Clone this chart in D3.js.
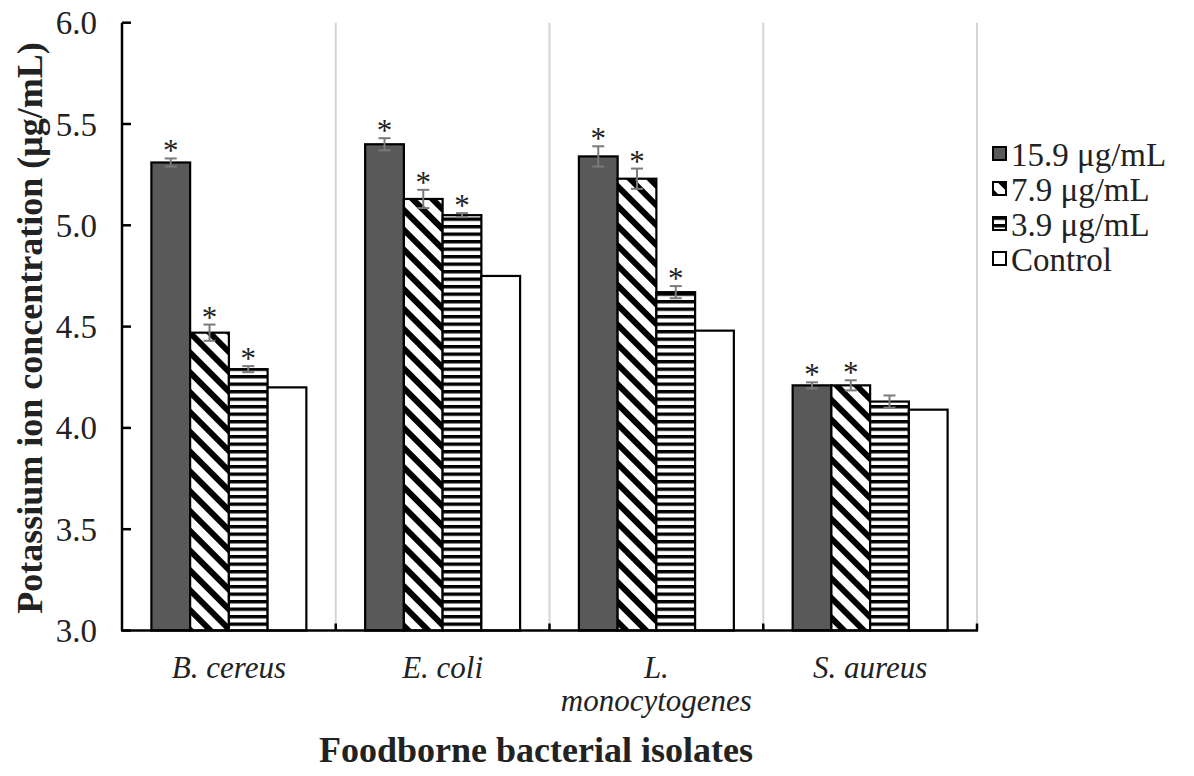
<!DOCTYPE html>
<html>
<head>
<meta charset="utf-8">
<script src="https://cdn.jsdelivr.net/npm/d3@7"></script>
<style>
  html, body { margin: 0; padding: 0; background: #fff; }
  svg { display: block; }
  text { font-family: "Liberation Serif", "Times New Roman", serif; fill: #222; }
</style>
</head>
<body>
<svg id="chart" width="1194" height="776"></svg>
<script>
// ---- data ----
const categories = ["B. cereus", "E. coli", "L. monocytogenes", "S. aureus"];
const categoryLines = [["B. cereus"], ["E. coli"], ["L.", "monocytogenes"], ["S. aureus"]];
const seriesNames = ["15.9 μg/mL", "7.9 μg/mL", "3.9 μg/mL", "Control"];
const values159 = [5.31, 5.40, 5.34, 4.21];
const errors159 = [0.02, 0.03, 0.05, 0.015];
const sig159 = [true, true, true, true];
const values79 = [4.47, 5.13, 5.23, 4.21];
const errors79 = [0.04, 0.045, 0.05, 0.025];
const sig79 = [true, true, true, true];
const values39 = [4.29, 5.05, 4.67, 4.13];
const errors39 = [0.015, 0.01, 0.03, 0.03];
const sig39 = [true, true, true, false];
const valuesCtrl = [4.20, 4.75, 4.48, 4.09];
const errorsCtrl = [0, 0, 0, 0];
const sigCtrl = [false, false, false, false];
const yTicks = [3.0, 3.5, 4.0, 4.5, 5.0, 5.5, 6.0];
const yTitle = "Potassium ion concentration (μg/mL)";
const xTitle = "Foodborne bacterial isolates";

(function () {
const seriesValues = [values159, values79, values39, valuesCtrl];
const seriesErrors = [errors159, errors79, errors39, errorsCtrl];
const seriesSig = [sig159, sig79, sig39, sigCtrl];
const fills = ["#595959", "url(#diag)", "url(#horiz)", "#ffffff"];

const svg = d3.select("#chart");
const defs = svg.append("defs");

// diagonal stripes "\"
const pd = defs.append("pattern").attr("id", "diag")
  .attr("patternUnits", "userSpaceOnUse").attr("width", 14).attr("height", 14)
  .attr("patternTransform", "rotate(45)");
pd.append("rect").attr("width", 14).attr("height", 14).attr("fill", "#fff");
pd.append("rect").attr("y", 0).attr("width", 14).attr("height", 6).attr("fill", "#000");

// horizontal stripes
const ph = defs.append("pattern").attr("id", "horiz")
  .attr("patternUnits", "userSpaceOnUse").attr("width", 10).attr("height", 7.5);
ph.append("rect").attr("width", 10).attr("height", 7.5).attr("fill", "#fff");
ph.append("rect").attr("y", 0).attr("width", 10).attr("height", 3.4).attr("fill", "#000");

const pLeft = 122, pRight = 977, pTop = 22.7, pBottom = 630.5;

const x = d3.scaleBand().domain(categories).range([pLeft, pRight])
  .paddingInner(0.275).paddingOuter(0.1375);
const xs = d3.scaleBand().domain(seriesNames).range([0, x.bandwidth()]).padding(0);
const y = d3.scaleLinear().domain([3, 6]).range([pBottom, pTop]);

// vertical gridlines at category boundaries
const step = x.step();
const boundaries = categories.map((c, i) => pLeft + step * (i + 1));
svg.append("g").selectAll("line").data(boundaries).join("line")
  .attr("x1", d => d).attr("x2", d => d)
  .attr("y1", y(6)).attr("y2", y(3))
  .attr("stroke", "#d4d4d4").attr("stroke-width", 2);

// bars
const gBars = svg.append("g");
seriesNames.forEach((s, si) => {
  const g = gBars.append("g");
  g.selectAll("rect").data(categories).join("rect")
    .attr("x", c => x(c) + xs(s))
    .attr("y", (c, i) => y(seriesValues[si][i]))
    .attr("width", xs.bandwidth())
    .attr("height", (c, i) => y(3) - y(seriesValues[si][i]))
    .attr("fill", fills[si])
    .attr("stroke", "#000").attr("stroke-width", 2.2);
});

// error bars + asterisks
seriesNames.forEach((s, si) => {
  categories.forEach((c, i) => {
    const e = seriesErrors[si][i];
    const v = seriesValues[si][i];
    const cx = x(c) + xs(s) + xs.bandwidth() / 2;
    if (e > 0) {
      const g = svg.append("g").attr("stroke", "#7a7a7a").attr("stroke-width", 2);
      g.append("line").attr("x1", cx).attr("x2", cx).attr("y1", y(v + e)).attr("y2", y(v - e));
      g.append("line").attr("x1", cx - 6).attr("x2", cx + 6).attr("y1", y(v + e)).attr("y2", y(v + e));
      g.append("line").attr("x1", cx - 6).attr("x2", cx + 6).attr("y1", y(v - e)).attr("y2", y(v - e));
    }
    if (seriesSig[si][i]) {
      svg.append("text").attr("x", cx).attr("y", y(v + e) + 3)
        .attr("text-anchor", "middle").attr("font-size", 31).attr("fill", "#000")
        .text("*");
    }
  });
});

// y axis
const yAxis = svg.append("g");
yAxis.append("line").attr("x1", pLeft).attr("x2", pLeft).attr("y1", y(6)).attr("y2", y(3))
  .attr("stroke", "#000").attr("stroke-width", 2.5);
yAxis.selectAll("line.tick").data(yTicks).join("line").attr("class", "tick")
  .attr("x1", pLeft).attr("x2", pLeft + 9).attr("y1", d => y(d)).attr("y2", d => y(d))
  .attr("stroke", "#000").attr("stroke-width", 2.5);
yAxis.selectAll("text").data(yTicks).join("text")
  .attr("x", 97).attr("y", d => y(d)).attr("dy", "0.35em")
  .attr("text-anchor", "end").attr("font-size", 33)
  .text(d => d3.format(".1f")(d));

// x axis
const xAxis = svg.append("g");
xAxis.append("line").attr("x1", pLeft - 1).attr("x2", pRight + 1).attr("y1", y(3)).attr("y2", y(3))
  .attr("stroke", "#000").attr("stroke-width", 2.5);
xAxis.selectAll("line.tick").data(boundaries).join("line").attr("class", "tick")
  .attr("x1", d => d).attr("x2", d => d).attr("y1", y(3)).attr("y2", y(3) - 7)
  .attr("stroke", "#000").attr("stroke-width", 2.5);
xAxis.selectAll("text").data(categories).join("text")
  .attr("x", c => x(c) + x.bandwidth() / 2)
  .attr("y", 678)
  .attr("text-anchor", "middle").attr("font-size", 31).attr("font-style", "italic")
  .each(function (c, i) {
    const t = d3.select(this);
    categoryLines[i].forEach((ln, k) => {
      t.append("tspan").attr("x", x(c) + x.bandwidth() / 2).attr("dy", k === 0 ? 0 : 33).text(ln);
    });
  });

// axis titles
svg.append("text").attr("x", 536).attr("y", 762)
  .attr("text-anchor", "middle").attr("font-size", 36).attr("font-weight", "bold")
  .attr("fill", "#111").text(xTitle);
svg.append("text").attr("transform", "translate(42,328) rotate(-90)")
  .attr("text-anchor", "middle").attr("font-size", 36).attr("font-weight", "bold")
  .attr("fill", "#111").text(yTitle);

// legend
const legend = svg.append("g").attr("transform", "translate(993,154)");
const items = legend.selectAll("g").data(seriesNames).join("g")
  .attr("transform", (d, i) => `translate(0,${i * 35})`);
items.append("rect").attr("x", 0).attr("y", -7).attr("width", 13).attr("height", 13)
  .attr("fill", (d, i) => fills[i]).attr("stroke", "#000").attr("stroke-width", 2);
items.append("text").attr("x", 18).attr("y", 0).attr("dy", "0.35em")
  .attr("font-size", 33).text(d => d);
})();
</script>
</body>
</html>
